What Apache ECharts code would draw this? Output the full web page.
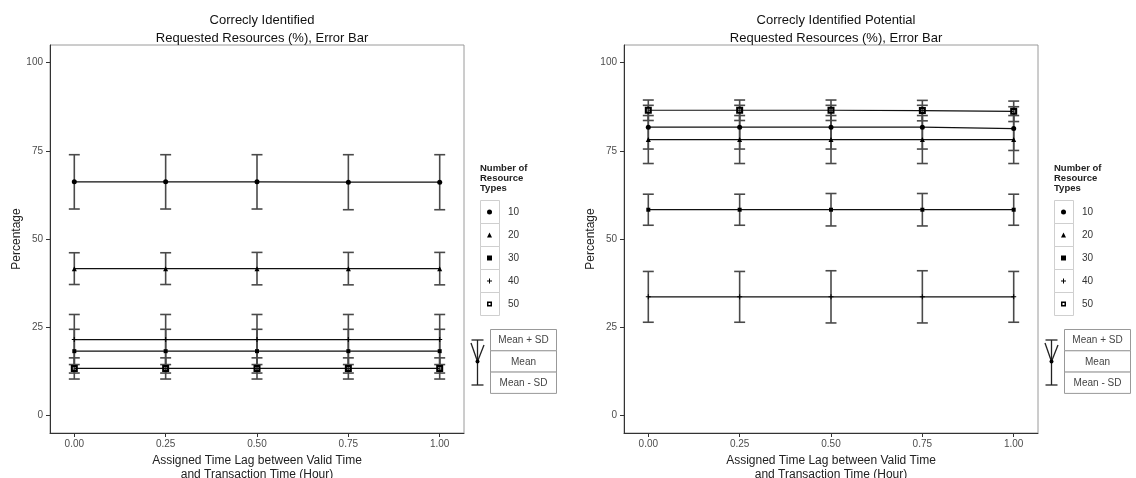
<!DOCTYPE html>
<html><head><meta charset="utf-8">
<script src="https://cdn.jsdelivr.net/npm/echarts@6/dist/echarts.min.js"></script>
<style>html,body{margin:0;padding:0;background:#fff}#c{width:1136px;height:478px}</style>
</head><body><div id="c"></div>
<script>
// ---- data ----
const xValues = [0, 0.25, 0.5, 0.75, 1.0];
const xTicks = [0, 0.25, 0.5, 0.75, 1.0];
const yTicks = [0, 25, 50, 75, 100];
const resourceTypes = ['10', '20', '30', '40', '50'];
const leftMeans = [
  [66.2, 66.2, 66.2, 66.1, 66.1],
  [41.6, 41.6, 41.6, 41.6, 41.6],
  [18.2, 18.2, 18.2, 18.2, 18.2],
  [21.5, 21.5, 21.5, 21.5, 21.5],
  [13.3, 13.3, 13.3, 13.3, 13.3]
];
const leftSds = [
  [7.7, 7.7, 7.7, 7.8, 7.8],
  [4.5, 4.5, 4.6, 4.6, 4.6],
  [6.2, 6.2, 6.2, 6.2, 6.2],
  [7.1, 7.1, 7.1, 7.1, 7.1],
  [3.0, 3.0, 3.0, 3.0, 3.0]
];
const rightMeans = [
  [81.7, 81.7, 81.7, 81.7, 81.3],
  [78.2, 78.2, 78.2, 78.2, 78.2],
  [58.3, 58.3, 58.3, 58.3, 58.3],
  [33.6, 33.6, 33.6, 33.6, 33.6],
  [86.5, 86.5, 86.5, 86.4, 86.2]
];
const rightSds = [
  [6.2, 6.2, 6.2, 6.2, 6.2],
  [6.8, 6.8, 6.8, 6.8, 6.8],
  [4.4, 4.4, 4.6, 4.6, 4.4],
  [7.2, 7.2, 7.4, 7.4, 7.2],
  [2.9, 2.9, 2.9, 2.9, 2.9]
];
const titles = [
  'Correcly Identified\nRequested Resources (%), Error Bar',
  'Correcly Identified Potential\nRequested Resources (%), Error Bar'
];
const xName = 'Assigned Time Lag between Valid Time\nand Transaction Time (Hour)';
const yName = 'Percentage';
const legendTitle = 'Number of\nResource\nTypes';
const errorLegendLabels = ['Mean + SD', 'Mean', 'Mean - SD'];

// ---- styling ----
const FONT = '"Liberation Sans", Arial, sans-serif';
const PLUS = 'path://M4,0H6V4H10V6H6V10H4V6H0V4H4Z';
const HOLED = 'path://M0,0H10V10H0Z M3,3V7H7V3Z';
const symbols = ['circle', 'triangle', 'rect', PLUS, HOLED];
const symbolSizes = [5, 5, 4, 5, 7];
const panels = [
  { left: 50, means: leftMeans, sds: leftSds, dx: 0 },
  { left: 624, means: rightMeans, sds: rightSds, dx: 574 }
];
const CAP = 0.015;

const chart = echarts.init(document.getElementById('c'), null, { renderer: 'canvas' });

const grid = [], xAxis = [], yAxis = [], series = [], title = [], legend = [], graphic = [];

panels.forEach((p, pi) => {
  grid.push({ left: p.left, top: 45, width: 414, height: 388, show: true, borderColor: '#9a9a9a', borderWidth: 1,
    containLabel: false, outerBoundsMode: 'none' });
  xAxis.push({
    type: 'value', gridIndex: pi, min: -0.0665, max: 1.0665,
    axisLine: { show: true, onZero: false, lineStyle: { color: '#333', width: 1 } },
    axisTick: { show: true, customValues: xTicks, length: 4, lineStyle: { color: '#333' } },
    axisLabel: { customValues: xTicks, formatter: v => v.toFixed(2), fontSize: 10, color: '#4d4d4d', margin: 6, fontFamily: FONT },
    splitLine: { show: false },
    name: xName, nameLocation: 'middle', nameGap: 21,
    nameTextStyle: { fontSize: 12, lineHeight: 14, color: '#222', fontFamily: FONT }
  });
  yAxis.push({
    type: 'value', gridIndex: pi, min: -5, max: 105,
    axisLine: { show: true, onZero: false, lineStyle: { color: '#333', width: 1 } },
    axisTick: { show: true, customValues: yTicks, length: 4, lineStyle: { color: '#333' } },
    axisLabel: { customValues: yTicks, fontSize: 10, color: '#4d4d4d', margin: 7, fontFamily: FONT },
    splitLine: { show: false },
    name: yName, nameLocation: 'middle', nameGap: 27,
    nameTextStyle: { fontSize: 12, color: '#222', fontFamily: FONT }
  });
  title.push({
    text: titles[pi], left: p.left + 207, textAlign: 'center', top: 6,
    textStyle: { fontSize: 13, fontWeight: 'normal', lineHeight: 18, color: '#111', fontFamily: FONT }
  });
  resourceTypes.forEach((name, i) => {
    series.push({
      type: 'custom', xAxisIndex: pi, yAxisIndex: pi, silent: true, z: 2,
      data: xValues.map((x, j) => [x, p.means[i][j], p.sds[i][j]]),
      renderItem: (params, api) => {
        const x = api.value(0), m = api.value(1), s = api.value(2);
        const top = api.coord([x, m + s]);
        const bot = api.coord([x, m - s]);
        const hw = api.size([CAP, 0])[0];
        const st = { stroke: '#4a4a4a', lineWidth: 1.6 };
        return { type: 'group', children: [
          { type: 'line', shape: { x1: top[0], y1: top[1], x2: bot[0], y2: bot[1] }, style: st },
          { type: 'line', shape: { x1: top[0] - hw, y1: top[1], x2: top[0] + hw, y2: top[1] }, style: st },
          { type: 'line', shape: { x1: bot[0] - hw, y1: bot[1], x2: bot[0] + hw, y2: bot[1] }, style: st }
        ]};
      }
    });
    series.push({
      type: 'line', name: name, xAxisIndex: pi, yAxisIndex: pi, z: 3, silent: true,
      data: xValues.map((x, j) => [x, p.means[i][j]]),
      symbol: symbols[i], symbolSize: symbolSizes[i], showSymbol: true,
      itemStyle: { color: '#000' }, lineStyle: { color: '#111', width: 1.2 },
      animation: false
    });
  });
  legend.push({
    orient: 'vertical', left: 487 + p.dx, top: 207, padding: 0,
    itemWidth: 5, itemHeight: 5, itemGap: 13, selectedMode: false,
    data: resourceTypes.map((n, i) => ({ name: n, icon: symbols[i], itemStyle: { color: '#000' } })),
    textStyle: { fontSize: 10, lineHeight: 10, color: '#333', padding: [0, 0, 0, 11], fontFamily: FONT }
  });
  const dx = p.dx;
  graphic.push({ type: 'text', left: 480 + dx, top: 163, silent: true,
    style: { text: legendTitle, lineHeight: 10, fill: '#222', font: 'bold 9.5px ' + FONT } });
  resourceTypes.forEach((n, i) => {
    graphic.push({ type: 'rect', silent: true, shape: { x: 480 + dx + 0.5, y: 200.5 + i * 23, width: 19, height: 23 },
      style: { fill: 'none', stroke: '#cfcfcf', lineWidth: 1 } });
  });
  // error bar key
  const ex = 477.5 + dx;
  const est = { stroke: '#222', lineWidth: 1.3 };
  graphic.push({ type: 'line', silent: true, shape: { x1: ex, y1: 340, x2: ex, y2: 385 }, style: est });
  graphic.push({ type: 'line', silent: true, shape: { x1: ex - 6, y1: 340, x2: ex + 6, y2: 340 }, style: est });
  graphic.push({ type: 'line', silent: true, shape: { x1: ex - 6, y1: 385, x2: ex + 6, y2: 385 }, style: est });
  graphic.push({ type: 'line', silent: true, shape: { x1: ex - 6.5, y1: 343, x2: ex, y2: 361.5 }, style: est });
  graphic.push({ type: 'line', silent: true, shape: { x1: ex + 6.5, y1: 345, x2: ex, y2: 361.5 }, style: est });
  graphic.push({ type: 'circle', silent: true, shape: { cx: ex, cy: 361.5, r: 2 }, style: { fill: '#000' } });
  errorLegendLabels.forEach((t, k) => {
    graphic.push({ type: 'rect', silent: true, shape: { x: 490.5 + dx, y: 329.5 + k * 21.3, width: 66, height: 21.3 },
      style: { fill: '#fff', stroke: '#999', lineWidth: 1 } });
    graphic.push({ type: 'text', silent: true, x: 523.5 + dx, y: 340.5 + k * 21.3,
      style: { text: t, fill: '#444', font: '10px ' + FONT, align: 'center', verticalAlign: 'middle' } });
  });
});

chart.setOption({
  animation: false,
  backgroundColor: '#fff',
  textStyle: { fontFamily: FONT },
  title, grid, xAxis, yAxis, series, legend, graphic
});
</script>
</body></html>
